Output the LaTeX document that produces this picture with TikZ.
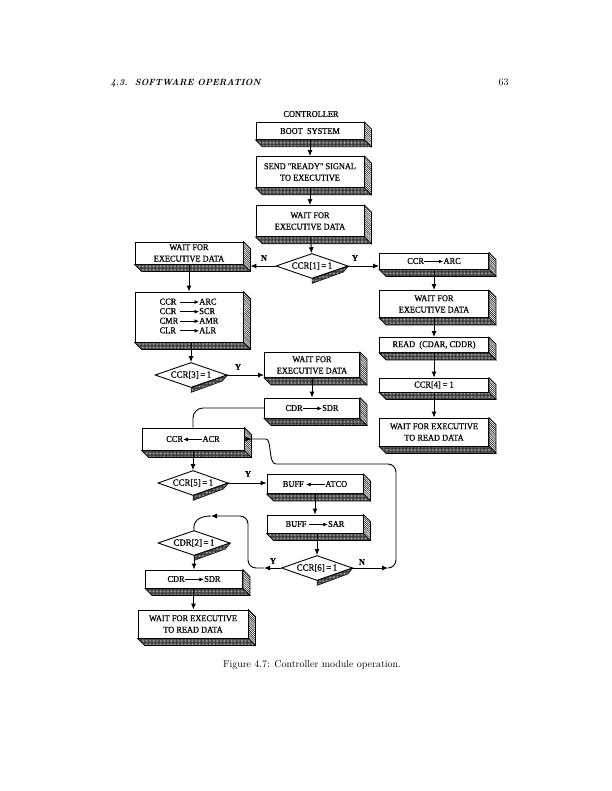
\documentclass[tikz,border=0pt]{standalone}
\usepackage{fontspec}
\newfontfamily\boxfont{Liberation Serif}[FakeStretch=0.93, FakeBold=0.6]
\usetikzlibrary{positioning,shapes,calc,arrows.meta,patterns.meta}
\newcommand{\rarr}{\tikz[baseline=-0.6ex]\draw[-{Latex[length=4.5pt,width=4pt]},line width=0.7pt] (0pt,0pt) -- (19pt,0pt);}
\newcommand{\larr}{\tikz[baseline=-0.6ex]\draw[{Latex[length=4.5pt,width=4pt]}-,line width=0.7pt] (0pt,0pt) -- (19pt,0pt);}
\newcommand{\boxshade}[1]{%
  \draw[line width=0.6pt, pattern={Lines[angle=-45,distance=1.5pt,line width=0.45pt]}]
    (#1.north east) -- ++(7,7) -- ($(#1.south east)+(7,7)$) -- (#1.south east) -- cycle;
  \draw[line width=0.6pt, preaction={fill=black!80}, pattern={Dots[distance=1.4pt,radius=0.35pt]}, pattern color=white]
    (#1.south west) -- ++(7,7) -- ($(#1.south east)+(7,7)$) -- (#1.south east) -- cycle;}
\newcommand{\decshade}[1]{%
  \draw[line width=0.5pt, preaction={fill=black!80}, pattern={Dots[distance=1.4pt,radius=0.35pt]}, pattern color=white]
    (#1.south) -- (#1.east) -- ($(#1.east)+(-5,6)$) -- ($(#1.south)+(0,4.5)$) -- cycle;}

\begin{document}
\begin{tikzpicture}[x=1bp,y=-1bp,
  blk/.style={draw, fill=white, line width=0.9pt, align=center, inner sep=1pt,
    font=\boxfont\fontsize{9}{11.5}\selectfont},
  dec/.style={draw, fill=white, diamond, aspect=2.8, line width=0.9pt, inner sep=0pt,
    minimum width=72bp, minimum height=25bp, font=\boxfont\fontsize{9.5}{10}\selectfont},
  arr/.style={-{Latex[length=6bp,width=5bp]}, line width=0.9pt},
  link/.style={line width=0.9pt},
  lbl/.style={font=\boxfont\bfseries\fontsize{9}{10}\selectfont}]
\useasboundingbox (0,0) rectangle (612,791);

% page header and caption
\node[anchor=base west, font=\fontsize{9}{11}\selectfont\bfseries\itshape] (sec) at (107,85) {4.3.\ \ SOFTWARE OPERATION};
\node[anchor=base east] (pg) at (512,85) {63};
\node (cap) at (312,665) {Figure 4.7: Controller module operation.};

% main column
\node[font=\boxfont\fontsize{9}{10}\selectfont] (title) at (311,114) {CONTROLLER};
\node[blk, minimum width=108bp, minimum height=17bp] (boot) at (310,131) {BOOT\ \ SYSTEM};
\node[blk, minimum width=108bp, minimum height=31bp] (ready) at (310,172) {SEND "READY" SIGNAL\\TO EXECUTIVE};
\node[blk, minimum width=108bp, minimum height=31bp] (wait1) at (310,221) {WAIT FOR\\EXECUTIVE DATA};
\node[dec] (dec1) at (312,266) {CCR[1]\,=\,1};

% right column
\node[blk, minimum width=109bp, minimum height=16bp] (ccrarc) at (434,261) {CCR\rarr ARC};
\node[blk, minimum width=109bp, minimum height=27bp] (waitR) at (434,304) {WAIT FOR\\EXECUTIVE DATA};
\node[blk, minimum width=109bp, minimum height=15bp] (read) at (434,345) {READ\ \ (CDAR, CDDR)};
\node[blk, minimum width=109bp, minimum height=14bp] (ccr4) at (434,385) {CCR[4] = 1};
\node[blk, minimum width=109bp, minimum height=28bp] (waitR2) at (434,432) {WAIT FOR EXECUTIVE\\TO READ DATA};

% left column
\node[blk, minimum width=108bp, minimum height=22bp] (waitL) at (189,253) {WAIT FOR\\EXECUTIVE DATA};
\node[blk, minimum width=108bp, minimum height=50bp, font=\boxfont\fontsize{9}{9.6}\selectfont] (list) at (189,317)
  {\begin{tabular}{@{}l@{\,}l@{}}CCR&\rarr ARC\\ CCR&\rarr SCR\\ CMR&\rarr AMR\\ CLR&\rarr ALR\end{tabular}};
\node[dec] (dec3) at (191,375) {CCR[3]\,=\,1};
\node[blk, minimum width=95bp, minimum height=25bp] (waitM) at (312,365) {WAIT FOR\\EXECUTIVE DATA};
\node[blk, minimum width=95bp, minimum height=20bp] (cdrM) at (312,408) {CDR\rarr SDR};
\node[blk, minimum width=102bp, minimum height=22bp] (ccracr) at (193,439) {CCR\larr ACR};
\node[dec, minimum width=70bp] (dec5) at (193,483) {CCR[5]\,=\,1};
\node[blk, minimum width=96bp, minimum height=19bp] (buffatco) at (315,484) {BUFF\ \larr ATCO};
\node[blk, minimum width=96bp, minimum height=18bp] (buffsar) at (315,524) {BUFF\ \rarr SAR};
\node[dec, minimum width=71bp] (dec6) at (317,568) {CCR[6]\,=\,1};
\node[dec] (dec2) at (194,543) {CDR[2]\,=\,1};
\node[blk, minimum width=97bp, minimum height=18bp] (cdrL) at (194,579) {CDR\rarr SDR};
\node[blk, minimum width=110bp, minimum height=28bp] (waitL2) at (193,624) {WAIT FOR EXECUTIVE\\TO READ DATA};

\foreach \b in {boot,ready,wait1,ccrarc,waitR,read,ccr4,waitR2,waitL,list,waitM,cdrM,ccracr,buffatco,buffsar,cdrL,waitL2}
  \boxshade{\b};
\foreach \d in {dec1,dec3,dec5,dec6,dec2}
  \decshade{\d};

% straight flow
\draw[arr] (boot) -- (ready);
\draw[arr] (ready) -- (wait1);
\draw[arr] (wait1) -- (dec1);
\draw[arr] (ccrarc) -- (waitR);
\draw[arr] (waitR) -- (read);
\draw[arr] (read) -- (ccr4);
\draw[arr] (ccr4) -- (waitR2);
\draw[arr] (waitL) -- (list);
\draw[arr] (list.south -| dec3) -- (dec3);
\draw[arr] (waitM.south -| cdrM) -- (cdrM);
\draw[arr] (ccracr) -- (dec5);
\draw[arr] (buffatco.south -| buffsar) -- (buffsar);
\draw[arr] (buffsar.south -| dec6) -- (dec6);
\draw[arr] (dec2) -- (cdrL);
\draw[arr] (cdrL) -- (waitL2);

% branches
\draw[arr] (dec1.west) -- ($(dec1.west -| waitL.east)+(7,0)$);
\draw[arr] (dec1.east) -- (dec1.east -| ccrarc.west);
\draw[arr] (dec3.east) -- (dec3.east -| waitM.west);
\draw[arr] (dec5.east) -- (dec5.east -| buffatco.west);
\draw[link, rounded corners=10bp] (cdrM.west) -| (ccracr.north);
\node[lbl] (n1) at (264,258) {N};
\node[lbl] (y1) at (355,258) {Y};
\node[lbl] (y3) at (238,367) {Y};
\node[lbl] (y5) at (248,474) {Y};
\node[lbl] (y6) at (273,561) {Y};
\node[lbl] (n6) at (362,562) {N};

% CCR[6] = 1, N: back to CCR <- ACR
\coordinate (nTip) at (388,568);
\coordinate (nUp) at (396,464);
\draw[arr] (dec6.east) -- (nTip);
\draw[arr, rounded corners=8bp] (nTip) -- (nTip -| nUp) -- (nUp) -- (284,464)
  .. controls (268,464) and (272,439) .. (258,439) -- ($(ccracr.east)+(7,0)$);

% CCR[6] = 1, Y: up to CDR[2] = 1
\coordinate (yTip) at (264,568);
\coordinate (yUp) at (248,516);
\coordinate (yEnd) at (211,516);
\draw[arr] (dec6.west) -- (yTip);
\draw[arr, rounded corners=8bp] (yTip) -- (yTip -| yUp) -- (yUp) -- (yEnd);
\draw[link] (yEnd) .. controls (198,516) and (193,522) .. (dec2.north);
\end{tikzpicture}
\end{document}
